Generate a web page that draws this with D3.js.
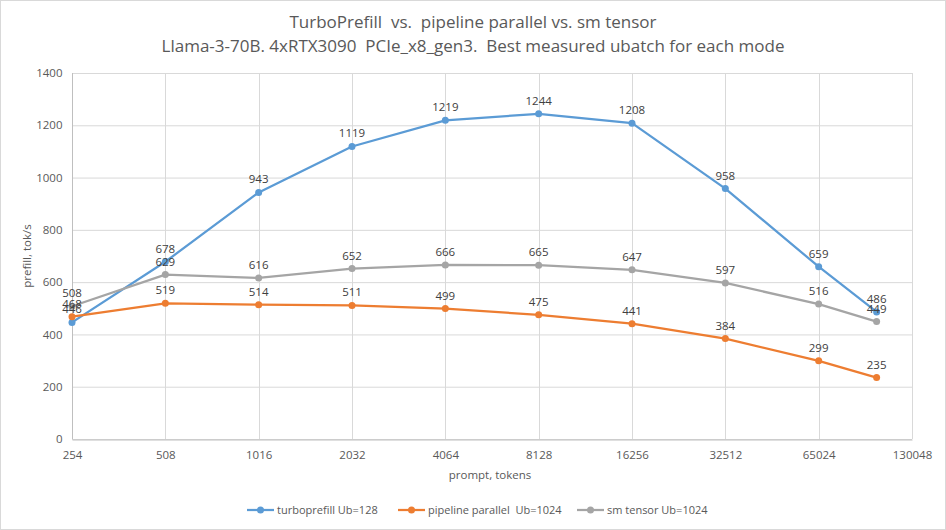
<!DOCTYPE html>
<html>
<head>
<meta charset="utf-8">
<script src="https://cdn.jsdelivr.net/npm/d3@7"></script>
<style>
body { margin: 0; background: #fff; }
svg { display: block; }
text { font-family: "Open Sans", sans-serif; white-space: pre; }
</style>
</head>
<body>
<svg id="chart" width="946" height="530"></svg>
<script>
// prompt sizes (tokens) for each measured point
var prompts = [254, 508, 1016, 2032, 4064, 8128, 16256, 32512, 65024, 100000]
var turbo = [446, 678, 943, 1119, 1219, 1244, 1208, 958, 659, 486]
var pipeline = [468, 519, 514, 511, 499, 475, 441, 384, 299, 235]
var smTensor = [508, 629, 616, 652, 666, 665, 647, 597, 516, 449]
var xTicks = [254, 508, 1016, 2032, 4064, 8128, 16256, 32512, 65024, 130048]
var yTicks = [0, 200, 400, 600, 800, 1000, 1200, 1400]
var seriesNames = ["turboprefill Ub=128", "pipeline parallel  Ub=1024", "sm tensor Ub=1024"]
var seriesColors = ["#5b9bd5", "#ed7d31", "#a5a5a5"]

var svg = d3.select("#chart")
var chart = {left: 72, right: 912, top: 73, bottom: 439}
var small = "11.5px"

svg.append("rect")
	.attr("x", 0.5).attr("y", 0.5)
	.attr("width", 945).attr("height", 529)
	.attr("fill", "#fff").attr("stroke", "#d9d9d9")

var x = d3.scaleLog().base(2).domain([254, 130048]).range([chart.left, chart.right])
var y = d3.scaleLinear().domain([0, 1400]).range([chart.bottom, chart.top])

// gridlines
svg.append("g").selectAll("line").data(yTicks).enter().append("line")
	.attr("x1", chart.left).attr("x2", chart.right)
	.attr("y1", function(d){ return y(d) + 0.5 })
	.attr("y2", function(d){ return y(d) + 0.5 })
	.attr("stroke", "#d9d9d9")
svg.append("g").selectAll("line").data(xTicks).enter().append("line")
	.attr("x1", function(d){ return Math.round(x(d)) + 0.5 })
	.attr("x2", function(d){ return Math.round(x(d)) + 0.5 })
	.attr("y1", chart.top).attr("y2", chart.bottom)
	.attr("stroke", "#d9d9d9")

// axes
var xAxis = svg.append("g")
	.attr("transform", "translate(0," + (chart.bottom + 0.5) + ")")
	.call(d3.axisBottom(x).tickValues(xTicks).tickFormat(d3.format("d")).tickSize(0).tickPadding(11))
var yAxis = svg.append("g")
	.attr("transform", "translate(" + (chart.left + 0.5) + ",0)")
	.call(d3.axisLeft(y).tickValues(yTicks).tickFormat(d3.format("d")).tickSize(0).tickPadding(10))
;[xAxis, yAxis].forEach(function(a){
	a.select(".domain").attr("stroke", "#bfbfbf")
	a.selectAll("text").attr("fill", "#595959").style("font-size", small)
		.style("font-family", "\"Open Sans\", sans-serif")
})
yAxis.select(".domain").attr("d", "M0," + chart.top + "V" + chart.bottom)

// titles
var title = svg.append("text").attr("x", 473).attr("text-anchor", "middle")
	.attr("fill", "#595959").style("font-size", "17px")
title.append("tspan").attr("x", 473).attr("y", 28).text("TurboPrefill  vs.  pipeline parallel vs. sm tensor")
title.append("tspan").attr("x", 473).attr("y", 52).text("Llama-3-70B. 4xRTX3090  PCIe_x8_gen3.  Best measured ubatch for each mode")

svg.append("text").attr("x", 490).attr("y", 479).attr("text-anchor", "middle")
	.attr("fill", "#595959").style("font-size", small).text("prompt, tokens")
svg.append("text").attr("transform", "translate(31,256) rotate(-90)").attr("text-anchor", "middle")
	.attr("fill", "#595959").style("font-size", small).text("prefill, tok/s")

// series
var series = [turbo, pipeline, smTensor].map(function(vals, i){
	return {name: seriesNames[i], color: seriesColors[i], points: vals.map(function(v, j){ return {x: prompts[j], y: v} })}
})
var line = d3.line().x(function(d){ return x(d.x) }).y(function(d){ return y(d.y) })

var groups = svg.append("g").selectAll("g").data(series).enter().append("g")
groups.append("path")
	.attr("d", function(d){ return line(d.points) })
	.attr("fill", "none").attr("stroke", function(d){ return d.color })
	.attr("stroke-width", 2.25).attr("stroke-linejoin", "round")
groups.selectAll("circle").data(function(d){ return d.points }).enter().append("circle")
	.attr("cx", function(d){ return x(d.x) }).attr("cy", function(d){ return y(d.y) })
	.attr("r", 3.5)
	.attr("fill", function(){ return d3.select(this.parentNode).datum().color })
var labels = svg.append("g")
series.forEach(function(s){
	labels.selectAll(null).data(s.points).enter().append("text")
		.attr("x", function(d){ return x(d.x) }).attr("y", function(d){ return y(d.y) - 9 })
		.attr("text-anchor", "middle").attr("fill", "#404040").style("font-size", small)
		.text(function(d){ return d.y })
})

// legend
var legendX = [247, 398, 577]
var legend = svg.append("g").selectAll("g").data(series).enter().append("g")
	.attr("transform", function(d, i){ return "translate(" + legendX[i] + ",510)" })
legend.append("line").attr("x1", 0).attr("x2", 27).attr("stroke", function(d){ return d.color }).attr("stroke-width", 2.25)
legend.append("circle").attr("cx", 13.5).attr("r", 3.5).attr("fill", function(d){ return d.color })
legend.append("text").attr("x", 30).attr("y", 4).attr("fill", "#595959").style("font-size", "11px")
	.text(function(d){ return d.name })
</script>
</body>
</html>
